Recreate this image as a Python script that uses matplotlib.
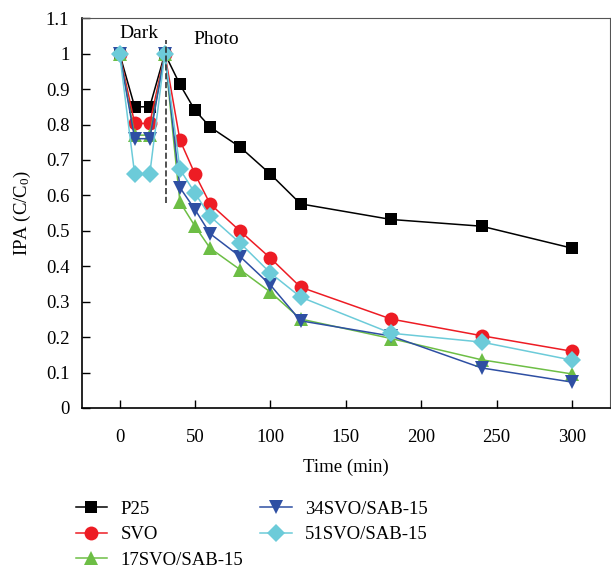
import numpy as np
import matplotlib
matplotlib.use('Agg')
import matplotlib.pyplot as plt
from matplotlib.ticker import FormatStrFormatter, MultipleLocator

plt.rcParams['font.family'] = 'Liberation Serif'
plt.rcParams['mathtext.fontset'] = 'custom'
plt.rcParams['mathtext.rm'] = 'Liberation Serif'
plt.rcParams['mathtext.it'] = 'Liberation Serif:italic'

# Sampling times (min): dark adsorption up to 30, then illumination
time = [0, 10, 20, 30, 40, 50, 60, 80, 100, 120, 180, 240, 300]

p25 = [1.0, 0.85, 0.85, 1.0, 0.913, 0.84, 0.793, 0.736, 0.66, 0.576, 0.532, 0.513, 0.451]
svo = [1.0, 0.803, 0.803, 1.0, 0.756, 0.66, 0.576, 0.499, 0.423, 0.341, 0.251, 0.204, 0.16]
svo17 = [1.0, 0.77, 0.77, 1.0, 0.581, 0.513, 0.451, 0.39, 0.327, 0.251, 0.196, 0.136, 0.096]
svo34 = [1.0, 0.76, 0.76, 1.0, 0.622, 0.56, 0.492, 0.427, 0.347, 0.246, 0.203, 0.113, 0.073]
svo51 = [1.0, 0.66, 0.66, 1.0, 0.674, 0.606, 0.541, 0.465, 0.381, 0.313, 0.211, 0.186, 0.135]

labels = ['P25', 'SVO', '17SVO/SAB-15', '34SVO/SAB-15', '51SVO/SAB-15']
colors = ['#000000', '#ED1C24', '#6DBE45', '#2E4FA3', '#6CCBD9']
markers = ['s', 'o', '^', 'v', 'D']
sizes = [9, 10, 10, 10, 9]

fig = plt.figure(figsize=(6.11, 5.69), dpi=100)
ax = fig.add_axes([0.134, 0.283, 0.864, 0.685])

series = [p25, svo, svo17, svo34, svo51]
for y, lab, c, m, ms in zip(series, labels, colors, markers, sizes):
    ax.plot(time, y, color=c, marker=m, markersize=ms, linewidth=1.1,
            markeredgewidth=0, label=lab)

# dark / photo boundary
ax.plot([31, 31], [0.578, 1.038], color='#333333', linestyle='--', linewidth=1.2)
ax.text(13, 1.058, 'Dark', ha='center', va='center', fontsize=14)
ax.text(64, 1.04, 'Photo', ha='center', va='center', fontsize=14)

ax.set_xlim(-25, 325)
ax.set_ylim(0, 1.1)
ax.xaxis.set_major_locator(MultipleLocator(50))
ax.yaxis.set_major_locator(MultipleLocator(0.1))
ax.yaxis.set_major_formatter(FormatStrFormatter('%g'))
ax.tick_params(direction='in', labelsize=13.5, length=6, width=1)
ax.tick_params(axis='x', pad=15)
ax.tick_params(axis='y', pad=9)
for s in ['left', 'bottom']:
    ax.spines[s].set_linewidth(1.2)
for s in ['top', 'right']:
    ax.spines[s].set_linewidth(0.8)
    ax.spines[s].set_color('#555555')

ax.set_xlabel('Time (min)', fontsize=13.5, labelpad=9)
ax.set_ylabel('IPA (C/C$_{\\mathrm{0}}$)', fontsize=13.5, labelpad=9)

fig.legend(loc='upper left', bbox_to_anchor=(0.096, 0.15), ncol=2, frameon=False,
           fontsize=13.5, handlelength=1.7, labelspacing=0.45, columnspacing=0.9,
           handletextpad=0.7)

fig.savefig('out.png', dpi=100)
